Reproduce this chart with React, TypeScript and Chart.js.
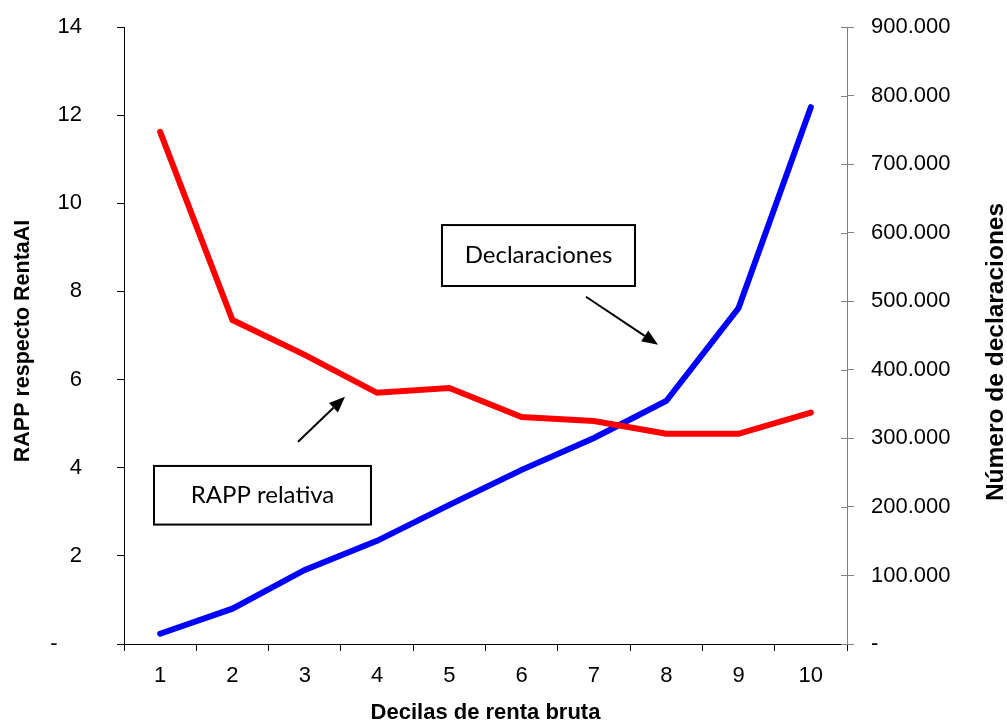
import React, { useEffect, useRef } from "react";
import { Chart, registerables } from "chart.js";

Chart.register(...registerables);

// Deciles of gross income
const deciles = ["1", "2", "3", "4", "5", "6", "7", "8", "9", "10"];
// Relative RAPP by decile (left axis)
const rappRelativa = [11.62, 7.35, 6.56, 5.7, 5.81, 5.15, 5.06, 4.77, 4.77, 5.25];
// Number of tax returns by decile (right axis)
const declaraciones = [15000, 51500, 108000, 150500, 203000, 254000, 300500, 354500, 490000, 783000];

const leftMax = 14;
const leftStep = 2;
const rightMax = 900000;
const rightStep = 100000;

const xTitle = "Decilas de renta bruta";
const leftTitle = "RAPP respecto RentaAI";
const rightTitle = "Número de declaraciones";

// Callout boxes and arrows, in (category index, left-axis value) coordinates
const callouts = [
  {
    text: "RAPP relativa",
    box: { x0: -0.085, x1: 2.916, y0: 4.04, y1: 2.71 },
    arrow: { x0: 1.907, y0: 4.59, x1: 2.557, y1: 5.61 },
  },
  {
    text: "Declaraciones",
    box: { x0: 3.898, x1: 6.568, y0: 9.506, y1: 8.123 },
    arrow: { x0: 5.89, y0: 7.88, x1: 6.886, y1: 6.79 },
  },
];

const thousands = (v: number) =>
  String(Math.round(v)).replace(/\B(?=(\d{3})+(?!\d))/g, ".");

const tickFont = { family: "'Liberation Sans', Arial, sans-serif", size: 22 };
const xTitleFont = "bold 22px 'Liberation Sans', Arial, sans-serif";
const leftTitleFont = "bold 21.5px 'Liberation Sans', Arial, sans-serif";
const rightTitleFont = "bold 24.5px 'Liberation Sans', Arial, sans-serif";
const calloutFont = "24px Lato, 'Noto Sans', sans-serif";

const decorations = {
  id: "decorations",
  afterDatasetsDraw(chart: any) {
    const ctx = chart.ctx as CanvasRenderingContext2D;
    const xs = chart.scales.x;
    const yl = chart.scales.y;
    const yr = chart.scales.y1;
    const area = chart.chartArea;

    ctx.save();
    // inner half of the right-axis tick marks
    ctx.strokeStyle = "#808080";
    ctx.lineWidth = 1;
    for (const t of yr.ticks) {
      const py = Math.round(yr.getPixelForValue(t.value)) + 0.5;
      ctx.beginPath();
      ctx.moveTo(area.right - 6, py);
      ctx.lineTo(area.right, py);
      ctx.stroke();
    }

    // callout boxes with arrows
    for (const c of callouts) {
      const bx0 = xs.getPixelForValue(c.box.x0);
      const bx1 = xs.getPixelForValue(c.box.x1);
      const by0 = yl.getPixelForValue(c.box.y0);
      const by1 = yl.getPixelForValue(c.box.y1);
      ctx.fillStyle = "#fff";
      ctx.fillRect(bx0, by0, bx1 - bx0, by1 - by0);
      ctx.strokeStyle = "#000";
      ctx.lineWidth = 2;
      ctx.strokeRect(bx0, by0, bx1 - bx0, by1 - by0);
      ctx.fillStyle = "#000";
      ctx.font = calloutFont;
      ctx.textAlign = "center";
      ctx.textBaseline = "middle";
      ctx.fillText(c.text, (bx0 + bx1) / 2, (by0 + by1) / 2);

      const ax0 = xs.getPixelForValue(c.arrow.x0);
      const ay0 = yl.getPixelForValue(c.arrow.y0);
      const ax1 = xs.getPixelForValue(c.arrow.x1);
      const ay1 = yl.getPixelForValue(c.arrow.y1);
      const ang = Math.atan2(ay1 - ay0, ax1 - ax0);
      const headLen = 16;
      const headHalf = 6.5;
      const bxh = ax1 - headLen * Math.cos(ang);
      const byh = ay1 - headLen * Math.sin(ang);
      ctx.beginPath();
      ctx.moveTo(ax0, ay0);
      ctx.lineTo(bxh, byh);
      ctx.lineWidth = 2;
      ctx.stroke();
      ctx.beginPath();
      ctx.moveTo(ax1, ay1);
      ctx.lineTo(bxh + headHalf * Math.sin(ang), byh - headHalf * Math.cos(ang));
      ctx.lineTo(bxh - headHalf * Math.sin(ang), byh + headHalf * Math.cos(ang));
      ctx.closePath();
      ctx.fill();
    }

    // axis titles
    ctx.fillStyle = "#000";
    ctx.textAlign = "center";
    ctx.textBaseline = "alphabetic";
    ctx.font = xTitleFont;
    const cx = (area.left + area.right) / 2;
    ctx.fillText(xTitle, cx, 719);

    ctx.textBaseline = "middle";
    ctx.save();
    ctx.font = leftTitleFont;
    ctx.translate(23, 341);
    ctx.rotate(-Math.PI / 2);
    ctx.fillText(leftTitle, 0, 0);
    ctx.restore();

    ctx.save();
    ctx.font = rightTitleFont;
    ctx.translate(996, 352);
    ctx.rotate(-Math.PI / 2);
    ctx.fillText(rightTitle, 0, 0);
    ctx.restore();

    ctx.restore();
  },
};

export default function App() {
  const canvasRef = useRef<HTMLCanvasElement | null>(null);

  useEffect(() => {
    const canvas = canvasRef.current;
    if (!canvas) return;
    const chart = new Chart(canvas, {
      type: "line",
      data: {
        labels: deciles,
        datasets: [
          {
            label: "RAPP relativa",
            data: rappRelativa,
            yAxisID: "y",
            borderColor: "#ff0000",
            backgroundColor: "#ff0000",
            borderWidth: 6,
            pointRadius: 0,
            tension: 0,
            borderCapStyle: "round",
            borderJoinStyle: "miter",
          },
          {
            label: "Declaraciones",
            data: declaraciones,
            yAxisID: "y1",
            borderColor: "#0000ff",
            backgroundColor: "#0000ff",
            borderWidth: 6,
            pointRadius: 0,
            tension: 0,
            borderCapStyle: "round",
            borderJoinStyle: "miter",
          },
        ],
      },
      options: {
        responsive: false,
        animation: false,
        devicePixelRatio: 1,
        layout: { autoPadding: false, padding: { top: 27, right: 0, bottom: 0, left: 0 } },
        plugins: {
          legend: { display: false },
          tooltip: { enabled: false },
          title: { display: false },
        },
        scales: {
          x: {
            type: "category",
            offset: true,
            grid: {
              display: true,
              offset: true,
              drawOnChartArea: false,
              drawTicks: true,
              tickLength: 7,
              color: "#000",
            },
            border: { display: true, color: "#000", width: 1 },
            ticks: {
              font: tickFont,
              color: "#000",
              padding: 12,
              maxRotation: 0,
              autoSkip: false,
            },
            afterFit(scale: any) {
              scale.height = 76;
              scale.paddingLeft = 0;
              scale.paddingRight = 0;
            },
          },
          y: {
            type: "linear",
            position: "left",
            min: 0,
            max: leftMax,
            grid: {
              display: true,
              drawOnChartArea: false,
              drawTicks: true,
              tickLength: 7,
              color: "#000",
            },
            border: { display: true, color: "#000", width: 1 },
            ticks: {
              stepSize: leftStep,
              font: tickFont,
              color: "#000",
              padding: 35,
              callback: (v: any) => (Number(v) === 0 ? "-    " : String(v)),
            },
            afterFit(scale: any) {
              scale.width = 124;
              scale.paddingTop = 0;
              scale.paddingBottom = 0;
            },
          },
          y1: {
            type: "linear",
            position: "right",
            min: 0,
            max: rightMax,
            grid: {
              display: true,
              drawOnChartArea: false,
              drawTicks: true,
              tickLength: 7,
              color: "#808080",
            },
            border: { display: true, color: "#808080", width: 1 },
            ticks: {
              stepSize: rightStep,
              font: tickFont,
              color: "#000",
              padding: 17,
              callback: (v: any) => (Number(v) === 0 ? "-" : thousands(Number(v))),
            },
            afterFit(scale: any) {
              scale.width = 160;
              scale.paddingTop = 0;
              scale.paddingBottom = 0;
            },
          },
        },
      },
      plugins: [decorations],
    });
    return () => chart.destroy();
  }, []);

  return (
    <div style={{ position: "fixed", left: 0, top: 0, width: 1007, height: 720, background: "#fff" }}>
      <canvas ref={canvasRef} width={1007} height={720} style={{ display: "block" }} />
    </div>
  );
}
